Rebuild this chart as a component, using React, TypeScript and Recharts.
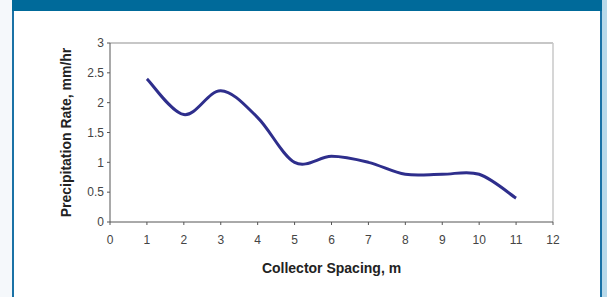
import React from "react";
import { LineChart, Line, XAxis, YAxis, ReferenceLine } from "recharts";

const spacing = [1, 2, 3, 4, 5, 6, 7, 8, 9, 10, 11];
const rate = [2.4, 1.8, 2.2, 1.75, 1.0, 1.1, 1.0, 0.8, 0.8, 0.8, 0.4];
const xTicks = [0, 1, 2, 3, 4, 5, 6, 7, 8, 9, 10, 11, 12];
const yTicks = [0, 0.5, 1, 1.5, 2, 2.5, 3];

const data = spacing.map((x, i) => ({ x, y: rate[i] }));

// Excel-like smoothed line (Catmull-Rom via cubic Bezier)
function excelCurve(context: any) {
  let pts: number[][] = [];
  return {
    areaStart() {},
    areaEnd() {},
    lineStart() {
      pts = [];
    },
    lineEnd() {
      if (pts.length === 0) return;
      context.moveTo(pts[0][0], pts[0][1]);
      for (let i = 0; i < pts.length - 1; i++) {
        const p0 = pts[i - 1] || pts[i];
        const p1 = pts[i];
        const p2 = pts[i + 1];
        const p3 = pts[i + 2] || pts[i + 1];
        const c1x = p1[0] + (p2[0] - p0[0]) / 6;
        const c1y = p1[1] + (p2[1] - p0[1]) / 6;
        const c2x = p2[0] - (p3[0] - p1[0]) / 6;
        const c2y = p2[1] - (p3[1] - p1[1]) / 6;
        context.bezierCurveTo(c1x, c1y, c2x, c2y, p2[0], p2[1]);
      }
    },
    point(x: number, y: number) {
      pts.push([+x, +y]);
    },
  };
}

const FONT = "Liberation Sans, Arial, sans-serif";
const tickStyle = { fontFamily: FONT, fontSize: 12, fill: "#444" };
const titleStyle = { fontFamily: FONT, fontSize: 14, fontWeight: "bold", fill: "#222" };

export default function App() {
  return (
    <div style={{ position: "fixed", left: 0, top: 0, width: 607, height: 297, background: "#f5f8fb", overflow: "hidden" }}>
      <div style={{ position: "absolute", left: 12, top: 0, width: 590, height: 297, background: "#ffffff", borderLeft: "2px solid #1a72a6", borderRight: "2px solid #1a72a6", boxSizing: "border-box" }} />
      <div style={{ position: "absolute", left: 12, top: 0, width: 590, height: 11, background: "#006a9a" }} />
      <div style={{ position: "absolute", left: 602, top: 0, width: 5, height: 297, background: "#b7d9ea" }} />
      <div style={{ position: "absolute", left: 0, top: 0 }}>
        <LineChart width={607} height={297} data={data} margin={{ top: 43, right: 54, bottom: 40, left: 60 }}>
          <XAxis
            type="number"
            dataKey="x"
            domain={[0, 12]}
            ticks={xTicks}
            interval={0}
            tick={tickStyle}
            tickSize={3}
            tickMargin={10}
            stroke="#555"
            height={35}
            label={{ value: "Collector Spacing, m", position: "insideBottom", offset: -16, style: titleStyle }}
          />
          <YAxis
            type="number"
            domain={[0, 3]}
            ticks={yTicks}
            interval={0}
            tick={tickStyle}
            tickSize={3}
            tickMargin={3}
            stroke="#555"
            width={50}
            label={{ value: "Precipitation Rate, mm/hr", angle: -90, position: "insideLeft", offset: 6, style: { ...titleStyle, textAnchor: "middle" } }}
          />
          <ReferenceLine y={3} stroke="#b5b5b5" strokeWidth={1.5} />
          <ReferenceLine x={12} stroke="#c8c8c8" strokeWidth={1.5} />
          <Line
            type={excelCurve as any}
            dataKey="y"
            stroke="#2e2e8c"
            strokeWidth={3}
            dot={false}
            isAnimationActive={false}
          />
        </LineChart>
      </div>
    </div>
  );
}
